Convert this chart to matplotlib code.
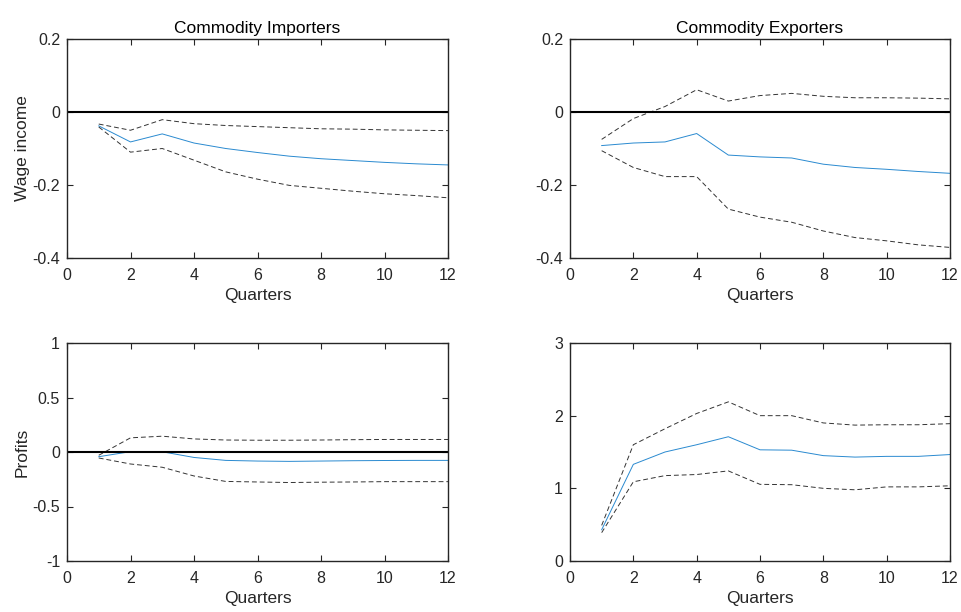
import matplotlib
matplotlib.use('Agg')
import matplotlib.pyplot as plt
import numpy as np

plt.rcParams['font.family'] = ['Liberation Sans', 'DejaVu Sans']

quarters = np.arange(1, 13)

# wage income, commodity importers
imp_wage_med = [-0.038, -0.082, -0.060, -0.085, -0.100, -0.111, -0.121, -0.128, -0.133, -0.138, -0.142, -0.145]
imp_wage_hi = [-0.033, -0.050, -0.021, -0.032, -0.037, -0.040, -0.043, -0.046, -0.047, -0.049, -0.050, -0.051]
imp_wage_lo = [-0.041, -0.110, -0.100, -0.132, -0.164, -0.184, -0.201, -0.209, -0.217, -0.224, -0.229, -0.235]

# wage income, commodity exporters
exp_wage_med = [-0.092, -0.085, -0.082, -0.059, -0.118, -0.123, -0.126, -0.143, -0.152, -0.157, -0.163, -0.168]
exp_wage_hi = [-0.075, -0.018, 0.015, 0.061, 0.030, 0.045, 0.051, 0.043, 0.039, 0.039, 0.038, 0.036]
exp_wage_lo = [-0.106, -0.152, -0.177, -0.177, -0.266, -0.288, -0.302, -0.326, -0.344, -0.353, -0.364, -0.371]

# profits, commodity importers
imp_prof_med = [-0.043, 0.003, 0.002, -0.050, -0.077, -0.083, -0.086, -0.083, -0.080, -0.078, -0.077, -0.077]
imp_prof_hi = [-0.030, 0.130, 0.145, 0.120, 0.110, 0.108, 0.108, 0.110, 0.113, 0.115, 0.115, 0.115]
imp_prof_lo = [-0.055, -0.110, -0.140, -0.220, -0.270, -0.275, -0.280, -0.277, -0.275, -0.272, -0.272, -0.272]

# profits, commodity exporters
exp_prof_med = [0.43, 1.33, 1.50, 1.60, 1.71, 1.53, 1.525, 1.45, 1.43, 1.44, 1.44, 1.465]
exp_prof_hi = [0.49, 1.60, 1.82, 2.03, 2.19, 2.00, 2.00, 1.90, 1.87, 1.875, 1.875, 1.89]
exp_prof_lo = [0.39, 1.09, 1.175, 1.19, 1.24, 1.055, 1.05, 1.00, 0.98, 1.02, 1.02, 1.035]

panels = [
    (imp_wage_med, imp_wage_hi, imp_wage_lo, (-0.4, 0.2), np.arange(-0.4, 0.21, 0.2), 'Commodity Importers', 'Wage income'),
    (exp_wage_med, exp_wage_hi, exp_wage_lo, (-0.4, 0.2), np.arange(-0.4, 0.21, 0.2), 'Commodity Exporters', None),
    (imp_prof_med, imp_prof_hi, imp_prof_lo, (-1, 1), np.arange(-1, 1.01, 0.5), None, 'Profits'),
    (exp_prof_med, exp_prof_hi, exp_prof_lo, (0, 3), np.arange(0, 3.01, 1), None, None),
]

fig = plt.figure(figsize=(9.62, 6.12), dpi=100)
W, H = 962.0, 612.0
boxes = [(67, 39, 448, 258), (570, 39, 950, 258), (67, 343, 448, 561), (570, 343, 950, 561)]

for (med, hi, lo, ylim, yt, title, ylab), (x0, y0, x1, y1) in zip(panels, boxes):
    ax = fig.add_axes([x0 / W, 1 - y1 / H, (x1 - x0) / W, (y1 - y0) / H])
    ax.plot(quarters, med, color='#2A8AD0', lw=0.7)
    ax.plot(quarters, hi, color='k', lw=0.7, ls=(0, (5, 3)), alpha=0.8)
    ax.plot(quarters, lo, color='k', lw=0.7, ls=(0, (5, 3)), alpha=0.8)
    if ylim[0] < 0 < ylim[1]:
        ax.axhline(0, color='k', lw=1.5)
    ax.set_xlim(0, 12)
    ax.set_ylim(*ylim)
    ax.set_xticks(np.arange(0, 13, 2))
    ax.set_yticks(yt)
    ax.set_yticklabels(['%g' % round(v, 2) for v in yt])
    ax.tick_params(direction='in', top=True, right=True, labelsize=11.5, length=4, width=0.8,
                   colors='#262626')
    ax.tick_params(axis='x', pad=7)
    ax.tick_params(axis='y', pad=5)
    for s in ax.spines.values():
        s.set_linewidth(1.0)
        s.set_color('#262626')
    ax.set_xlabel('Quarters', fontsize=12.5, color='#262626', labelpad=4)
    if title:
        ax.set_title(title, fontsize=12.5, color='#000000', pad=4)
    if ylab:
        ax.set_ylabel(ylab, fontsize=12.5, color='#262626', labelpad=2)

fig.savefig('out.png', dpi=100)
